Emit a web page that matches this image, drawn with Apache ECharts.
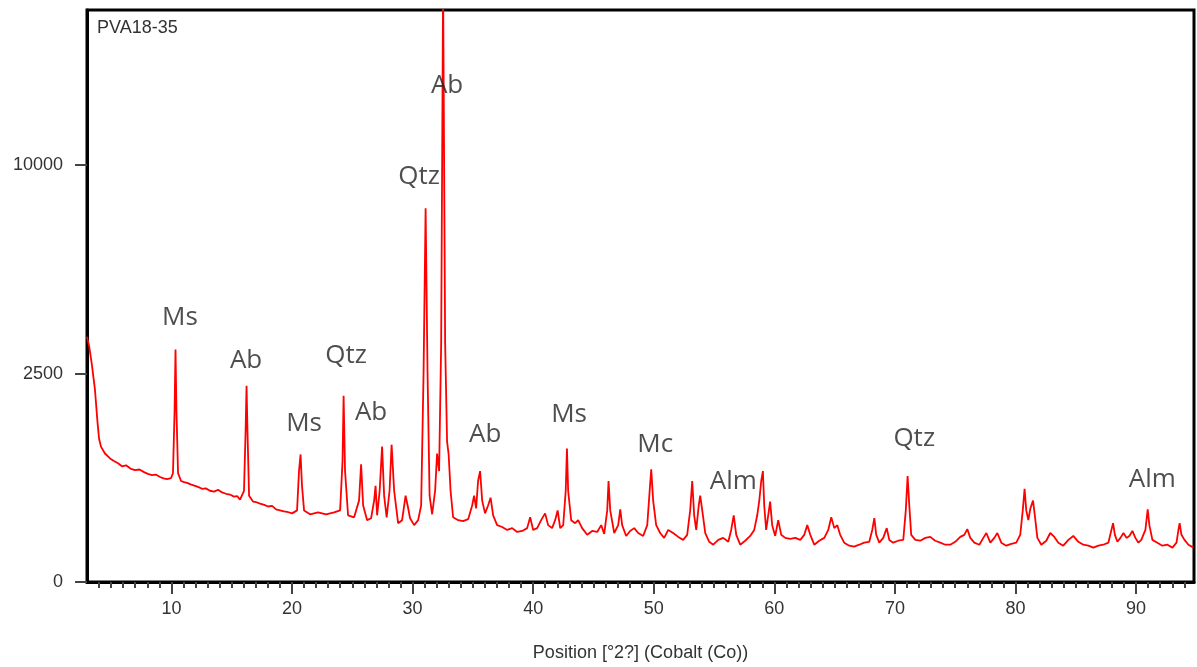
<!DOCTYPE html>
<html>
<head>
<meta charset="utf-8">
<title>PVA18-35</title>
<script src="https://cdn.jsdelivr.net/npm/echarts@6/dist/echarts.min.js"></script>
<style>
  html, body { margin: 0; padding: 0; background: #fff; }
  #main { width: 1197px; height: 667px; }
</style>
</head>
<body>
<div id="main"></div>
<script>
// diffraction pattern: position (deg 2theta) and counts
const twoTheta = [
  3.00, 3.17, 3.41, 3.66, 3.87, 4.00, 4.16, 4.49, 4.91, 5.20, 5.57, 5.90, 6.24, 6.60, 6.98, 7.35, 7.73,
  8.05, 8.39, 8.70, 9.06, 9.35, 9.64, 9.97,
  10.13, 10.26, 10.34, 10.42, 10.55, 10.80, 11.05, 11.30, 11.60, 11.96, 12.25, 12.54, 12.85, 13.20,
  13.55, 13.87, 14.20, 14.53, 14.85, 15.19, 15.45, 15.69,
  16.02, 16.15, 16.23, 16.31, 16.44, 16.77, 17.05, 17.35, 17.70, 18.01, 18.35, 18.68, 19.00, 19.34,
  19.70, 20.01, 20.42, 20.58, 20.71,
  20.83, 21.00, 21.50, 22.16, 22.83, 23.49, 23.99, 24.19, 24.28, 24.40, 24.65, 25.15, 25.56, 25.73,
  25.90, 26.23, 26.56, 26.81, 26.93, 27.06, 27.27, 27.47, 27.64, 27.85, 28.09, 28.26, 28.47, 28.80,
  29.13, 29.42, 29.59, 29.79, 30.13, 30.46, 30.71, 30.91, 31.08, 31.24, 31.41, 31.62, 31.87, 32.03,
  32.20, 32.37, 32.53, 32.70, 32.86, 32.99, 33.15, 33.36, 33.78, 34.19, 34.61, 34.94, 35.10, 35.27,
  35.43, 35.60, 35.77, 36.01, 36.26, 36.47, 36.68, 37.01, 37.43, 37.84, 38.26, 38.67, 39.09, 39.50,
  39.75, 40.00, 40.33, 40.66, 40.99, 41.24, 41.57, 41.82, 42.03, 42.24, 42.49, 42.70, 42.80, 42.90,
  43.15, 43.48, 43.73, 44.06, 44.48, 44.89, 45.31, 45.64, 45.89, 46.14, 46.25, 46.39, 46.72, 47.05,
  47.22, 47.38, 47.71, 48.04, 48.38, 48.71, 49.12, 49.46, 49.66, 49.79, 49.95, 50.20, 50.53, 50.86,
  51.20, 51.61, 52.03, 52.44, 52.77, 53.02, 53.19, 53.35, 53.52, 53.73, 53.85, 54.02, 54.27, 54.60,
  54.93, 55.35, 55.76, 56.18, 56.42, 56.63, 56.84, 57.17, 57.58, 58.00, 58.33, 58.58, 58.75, 58.91,
  59.05, 59.16, 59.32, 59.49, 59.65, 59.82, 60.07, 60.32, 60.57, 60.90, 61.32, 61.73, 62.15, 62.48,
  62.73, 62.98, 63.31, 63.72, 64.14, 64.47, 64.72, 64.97, 65.22, 65.46, 65.79, 66.21, 66.62, 67.04,
  67.45, 67.87, 68.12, 68.29, 68.45, 68.70, 69.03, 69.32, 69.53, 69.86, 70.27, 70.69, 70.90, 71.05,
  71.19, 71.35, 71.69, 72.10, 72.52, 72.93, 73.34, 73.76, 74.17, 74.59, 75.00, 75.42, 75.75, 76.00,
  76.25, 76.58, 77.00, 77.33, 77.58, 77.91, 78.24, 78.49, 78.82, 79.23, 79.65, 80.06, 80.39, 80.60,
  80.75, 80.89, 81.06, 81.23, 81.45, 81.60, 81.81, 82.14, 82.55, 82.88, 83.22, 83.55, 83.96, 84.38,
  84.79, 85.21, 85.62, 86.04, 86.45, 86.87, 87.28, 87.70, 87.95, 88.09, 88.24, 88.45, 88.70, 88.95,
  89.20, 89.44, 89.69, 89.94, 90.19, 90.43, 90.77, 90.96, 91.10, 91.35, 91.76, 92.18, 92.60, 93.01,
  93.35, 93.51, 93.61, 93.76, 94.01, 94.34, 94.75
];
const counts = [
  3460, 3215, 2704, 2127, 1471, 1180, 1054, 950, 878, 845, 811, 770, 784, 740, 719, 728, 695,
  672, 658, 664, 634, 618, 610, 622,
  682, 1657, 3110, 1657, 682, 587, 574, 566, 548, 532, 518, 500, 504, 479,
  470, 490, 462, 448, 440, 419, 425, 391,
  479, 1296, 2214, 1296, 429, 372, 366, 354, 342, 328, 334, 303, 296, 287,
  280, 271, 295, 707, 936,
  532, 295, 264, 279, 264, 279, 295, 837, 1998, 707, 256, 241, 381, 797,
  337, 220, 234, 381, 532, 256, 479, 1054, 429, 241, 479, 1085, 479, 199,
  220, 429, 337, 234, 186, 220, 337, 2512, 8036, 2512, 429, 264, 479, 950,
  707, 3270, 20500, 3270, 1132, 936, 479, 241, 220, 213, 227, 337, 429, 311,
  587, 707, 381, 271, 337, 409, 256, 186, 174, 156, 167, 144, 150, 167,
  241, 156, 167, 220, 271, 186, 167, 220, 295, 167, 186, 479, 1024, 479,
  220, 199, 220, 167, 128, 150, 144, 186, 133, 295, 587, 295, 138, 186,
  303, 186, 122, 150, 167, 138, 122, 186, 479, 732, 381, 186, 138, 112,
  156, 138, 117, 102, 128, 295, 587, 256, 156, 337, 429, 295, 138, 93,
  80, 102, 112, 93, 156, 256, 128, 80, 98, 122, 156, 256, 381, 587,
  707, 337, 156, 256, 372, 186, 122, 220, 128, 112, 107, 112, 102, 128,
  186, 128, 80, 98, 112, 156, 241, 167, 186, 128, 89, 76, 72, 80,
  89, 93, 156, 234, 128, 89, 112, 167, 102, 89, 98, 102, 295, 646,
  337, 128, 102, 98, 112, 117, 98, 89, 80, 80, 93, 117, 128, 161,
  112, 89, 80, 112, 138, 89, 112, 138, 89, 76, 84, 89, 128, 295,
  500, 295, 220, 311, 381, 256, 112, 80, 98, 138, 117, 89, 76, 102,
  122, 93, 80, 76, 68, 76, 80, 89, 156, 199, 128, 93, 112, 138,
  112, 122, 150, 112, 89, 102, 156, 303, 186, 102, 89, 76, 80, 68,
  89, 156, 199, 128, 102, 80, 68
];

// phase labels and where they sit (deg 2theta, counts)
const phaseNames = ['Ms', 'Ab', 'Ms', 'Qtz', 'Ab', 'Qtz', 'Ab', 'Ab', 'Ms', 'Mc', 'Alm', 'Qtz', 'Alm'];
const phaseTheta = [10.71, 16.19, 21.0, 24.48, 26.56, 30.54, 32.86, 36.02, 42.98, 50.12, 56.59, 71.6, 91.34];
const phaseCounts = [4035, 2826, 1435, 2954, 1657, 9443, 14180, 1246, 1619, 1085, 576, 1180, 599];

// axis ticks
const majorTicks = [10, 20, 30, 40, 50, 60, 70, 80, 90];
const minorTicks = [];
for (let t = 4; t <= 94; t++) {
  if (t % 10 !== 0) minorTicks.push(t);
}

// y axis is a square-root scale: plot sqrt(counts), label with the square
const lineData = twoTheta.map((t, i) => [t, Math.sqrt(counts[i])]);
const labelData = phaseNames.map((n, i) => ({
  name: n,
  value: [phaseTheta[i], Math.sqrt(phaseCounts[i])]
}));

const myChart = echarts.init(document.getElementById('main'));
const font = 'Liberation Sans, Arial, sans-serif';

const option = {
  animation: false,
  backgroundColor: '#fff',
  title: {
    text: 'PVA18-35',
    left: 92,
    top: 14,
    textStyle: { fontFamily: font, fontSize: 18, fontWeight: 'normal', color: '#333' }
  },
  grid: {
    left: 87,
    right: 3,
    top: 10,
    bottom: 74,
    show: true,
    borderColor: '#000',
    borderWidth: 3
  },
  xAxis: [
    {
      type: 'value',
      min: 3,
      max: 94.8,
      position: 'bottom',
      axisLine: { lineStyle: { color: '#000', width: 3 } },
      axisTick: { customValues: majorTicks, length: 12, lineStyle: { color: '#444', width: 2 } },
      axisLabel: { customValues: majorTicks, fontFamily: font, fontSize: 18, color: '#333', margin: 18 },
      splitLine: { show: false },
      name: 'Position [°2?] (Cobalt (Co))',
      nameLocation: 'middle',
      nameGap: 62,
      nameTextStyle: { fontFamily: font, fontSize: 18, color: '#333' }
    },
    {
      type: 'value',
      min: 3,
      max: 94.8,
      position: 'bottom',
      axisLine: { show: false },
      axisTick: { customValues: minorTicks, length: 6, lineStyle: { color: '#444', width: 2 } },
      axisLabel: { show: false, customValues: minorTicks },
      splitLine: { show: false }
    }
  ],
  yAxis: {
    type: 'value',
    min: 0,
    max: 137.2,
    interval: 50,
    axisLine: { show: true, lineStyle: { color: '#000', width: 3 } },
    axisTick: { show: true, length: 12, lineStyle: { color: '#444', width: 2 } },
    axisLabel: {
      fontFamily: font,
      fontSize: 18,
      color: '#333',
      margin: 24,
      showMaxLabel: false,
      formatter: v => String(Math.round(v * v))
    },
    splitLine: { show: false }
  },
  series: [
    {
      type: 'line',
      data: lineData,
      showSymbol: false,
      clip: true,
      lineStyle: { color: '#ff0000', width: 1.8 },
      z: 2
    },
    {
      type: 'scatter',
      data: labelData,
      symbolSize: 0,
      label: {
        show: true,
        position: 'inside',
        formatter: p => p.name,
        fontFamily: 'Open Sans, sans-serif',
        fontSize: 26,
        color: '#222'
      },
      z: 3
    }
  ]
};
myChart.setOption(option);
</script>
</body>
</html>
